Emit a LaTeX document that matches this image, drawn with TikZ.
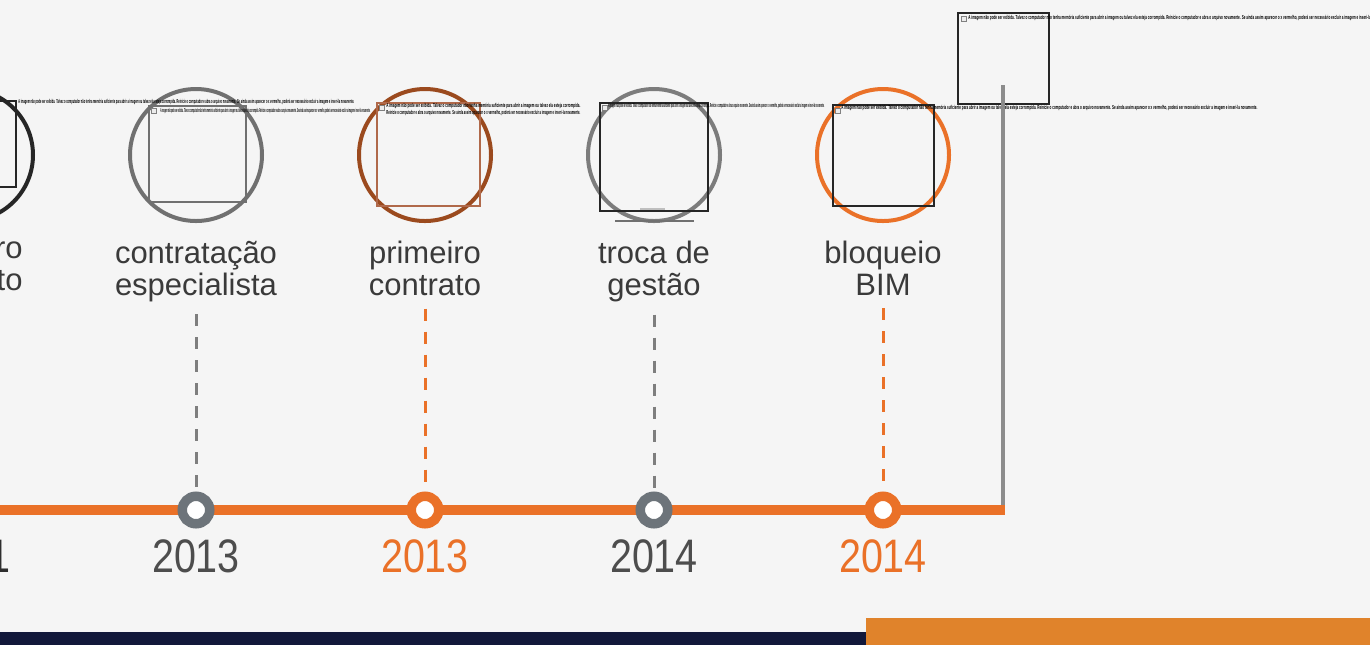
\documentclass[tikz,border=0pt]{standalone}
\usepackage{fontspec}
\usepackage{graphicx}
\setmainfont{Liberation Sans}
\newfontfamily\yearfont[FakeStretch=0.84]{Liberation Sans}
\usetikzlibrary{positioning}
\definecolor{bg}{HTML}{F5F5F5}
\definecolor{tlorange}{HTML}{EA7128}
\definecolor{barorange}{HTML}{E0832B}
\definecolor{navy}{HTML}{12183A}
\definecolor{ringgray}{HTML}{6D747A}
\definecolor{dashgray}{HTML}{7E7E7E}
\definecolor{linegray}{HTML}{8C8C8C}
\definecolor{circgray}{HTML}{707070}
\definecolor{circgraytwo}{HTML}{7C7C7C}
\definecolor{photobrown}{HTML}{9B4A1E}
\definecolor{boxbrown}{HTML}{B0694A}
\definecolor{labeldark}{HTML}{3A3A3A}
\definecolor{yeargray}{HTML}{4D4D4D}
\definecolor{yeardark}{HTML}{2E2E2E}
\newcommand{\msgA}{A imagem não pode ser exibida. Talvez o computador não tenha memória suficiente para abrir a imagem ou talvez ela esteja corrompida.}
\newcommand{\msgB}{Reinicie o computador e abra o arquivo novamente. Se ainda assim aparecer o x vermelho, poderá ser necessário excluir a imagem e inseri-la novamente.}
\newcommand{\phmsg}[2]{\resizebox{#1}{2.1pt}{\bfseries #2}}
\tikzstyle{photo} = [circle, draw, line width=2pt, inner sep=0pt, minimum size=66pt]
\tikzstyle{ring} = [circle, draw, fill=white, line width=4.75pt, inner sep=0pt, minimum size=13.75pt]
\tikzstyle{lbl} = [align=center, inner sep=0pt, anchor=north, text=labeldark, font=\fontsize{15.5}{16}\selectfont]
\tikzstyle{year} = [inner sep=0pt, anchor=base, font=\yearfont\fontsize{23.5}{24}\selectfont]
\tikzstyle{msg} = [inner sep=0pt, anchor=west, text=black]
\tikzstyle{icon} = [draw=gray, fill=gray!15, line width=.4pt, inner sep=0pt, minimum size=2.5pt, anchor=north west]
\tikzstyle{drop} = [line width=1.5pt, dash pattern=on 6pt off 5.5pt]
\tikzstyle{phbox} = [line width=.75pt]

\begin{document}
\begin{tikzpicture}[x=0.5pt, y=-0.5pt]
    \useasboundingbox (0,0) rectangle (1370,645);
    \clip (0,0) rectangle (1370,645);
    \fill[bg] (0,0) rectangle (1370,645);

    % bottom bars
    \fill[navy] (0,632) rectangle (868,645);
    \fill[barorange] (866,618) rectangle (1370,645);

    % photo frames
    \foreach \n/\x/\c in {0/-33/black!85, 1/196/circgray, 2/425/photobrown, 3/654/circgraytwo, 4/883/tlorange}
    \node[photo, draw=\c] (c\n) at (\x,155) {};

    % broken image placeholders
    \foreach \xa/\ya/\xb/\yb/\c in {-60/101/16/187/black!85, 149/106/246/202/circgray, 377/103/480/206/boxbrown, 600/103/708/211/black!85, 833/105/934/206/black!85}
    \draw[phbox, \c] (\xa,\ya) rectangle (\xb,\yb);
    \node[phbox, draw=black!85, inner sep=0pt, minimum size=45.5pt] (ph5) at (1003.5,58.5) {};
    \draw[phbox, circgray] (615,221) -- (694,221);
    \draw[phbox, gray!50] (640,209) -- (665,209);
    \foreach \n/\x/\y in {1/151/108, 2/379/105, 3/602/105, 4/835/108, 5/961/16}
    \node[icon] (i\n) at (\x,\y) {};

    \node[msg] (m0) at (18,102) {\phmsg{168pt}{\msgA\ \msgB}};
    \node[msg] (m1) at (160,111) {\phmsg{105pt}{\msgA\ \msgB}};
    \node[msg] (m2a) at (386,106) {\phmsg{97pt}{\msgA}};
    \node[msg] (m2b) at (386,113) {\phmsg{97pt}{\msgB}};
    \node[msg] (m3) at (608,106) {\phmsg{108pt}{\msgA\ \msgB}};
    \node[msg] (m4) at (841,108) {\phmsg{208pt}{\msgA\ \msgB}};
    \node[msg] (m5) at (968,18) {\phmsg{210pt}{\msgA\ \msgB}};

    % timeline
    \coordinate (vb) at (1003,512);
    \coordinate (vt) at (1003,85);
    \draw[linegray, line width=2pt] (vb) -- (vt);
    \coordinate (tl0) at (-10,510);
    \coordinate (tlend) at (1005,510);
    \draw[tlorange, line width=5pt] (tl0) -- (tlend);

    % labels
    \node[lbl, anchor=north east, align=right] (l0) at (23,241) {ro\\to};
    \foreach \n/\x/\t in {1/196/{contratação\\especialista}, 2/425/{primeiro\\contrato}, 3/654/{troca de\\gestão}, 4/883/{bloqueio\\BIM}}
    \node[lbl] (l\n) at (\x,241) {\t};

    % drop lines and rings
    \foreach \n/\x/\c/\d in {1/196/ringgray/dashgray, 2/425/tlorange/tlorange, 3/654/ringgray/dashgray, 4/883/tlorange/tlorange} {
        \node[ring, draw=\c] (r\n) at (\x,510) {};
        \draw[drop, \d] ([yshift=-6pt]l\n.south) -- (r\n.north);
    }

    % years
    \node[year, anchor=base east, text=yeardark] (y0) at (10.5,572) {1};
    \foreach \n/\x/\c/\t in {1/196/yeargray/2013, 2/425/tlorange/2013, 3/654/yeargray/2014, 4/883/tlorange/2014}
    \node[year, text=\c] (y\n) at (\x,572) {\t};
\end{tikzpicture}
\end{document}
